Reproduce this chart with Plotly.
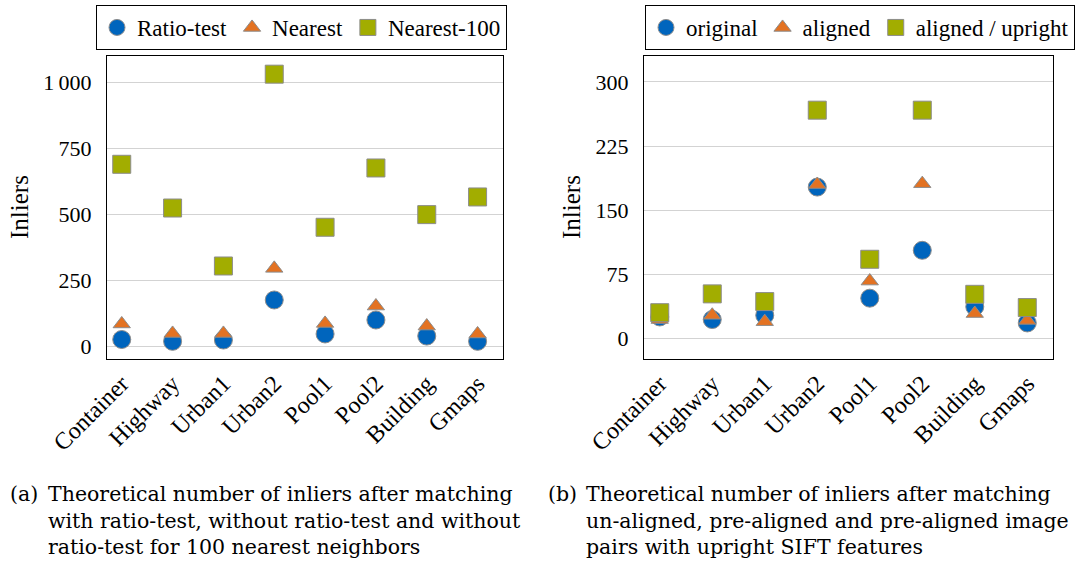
import plotly.graph_objects as go

categories = ["Container", "Highway", "Urban1", "Urban2", "Pool1", "Pool2", "Building", "Gmaps"]
tick_labels = ["Container", "Highway", "Urban1", "Urban2", "Pool1", "Pool2", "Building", "Gmaps"]

# Left panel (a)
ratio_test = [25, 18, 23, 175, 46, 99, 38, 18]
nearest = [84, 48, 48, 295, 86, 152, 76, 46]
nearest_100 = [690, 524, 304, 1032, 451, 676, 499, 566]

# Right panel (b)
original = [25, 22, 27, 177, 47, 103, 37, 18]
aligned = [22, 27, 19.5, 180, 67, 181, 29, 21]
aligned_upright = [30, 52, 43, 267, 92.5, 267, 51.5, 36]

left_yticks = [0, 250, 500, 750, 1000]
left_yticktext = ["0", "250", "500", "750", "1\u2009000"]
right_yticks = [0, 75, 150, 225, 300]
right_yticktext = ["0", "75", "150", "225", "300"]

BLUE = "#0065BD"
ORANGE = "#E37222"
GREEN = "#A2AD00"
EDGE = "#8c8c8c"
FONT = "Liberation Serif"
CAP_FONT = "DejaVu Serif"

W, H = 1078, 569

def px_x(p):
    return p / W

def px_y(p):
    return 1 - p / H

fig = go.Figure()

xidx = list(range(len(categories)))

def add_series(x_axis, y_axis, legend, name, y, symbol, color, size):
    fig.add_trace(go.Scatter(
        x=xidx, y=y, mode="markers", name=name,
        xaxis=x_axis, yaxis=y_axis, legend=legend,
        marker=dict(symbol=symbol, color=color, size=size,
                    line=dict(color=EDGE, width=1)),
        hoverinfo="skip",
    ))

add_series("x", "y", "legend", "Ratio-test", ratio_test, "circle", BLUE, 18)
add_series("x", "y", "legend", "Nearest", nearest, "triangle-up", ORANGE, 15)
add_series("x", "y", "legend", "Nearest-100", nearest_100, "square", GREEN, 18)

add_series("x2", "y2", "legend2", "original", original, "circle", BLUE, 18)
add_series("x2", "y2", "legend2", "aligned", aligned, "triangle-up", ORANGE, 15)
add_series("x2", "y2", "legend2", "aligned / upright", aligned_upright, "square", GREEN, 18)

ydom = [px_y(359), px_y(56)]

xaxis_common = dict(
    tickmode="array", tickvals=xidx, ticktext=tick_labels, tickangle=-45,
    showgrid=False, zeroline=False, showline=True, mirror=True,
    linecolor="black", linewidth=1, ticks="", automargin=False,
    tickfont=dict(family=FONT, size=24, color="black"),
)
yaxis_common = dict(
    showgrid=True, gridcolor="#d3d3d3", gridwidth=1, zeroline=False,
    showline=True, mirror=True, linecolor="black", linewidth=1, ticks="",
    ticklabelstandoff=10, automargin=False,
    tickfont=dict(family=FONT, size=22, color="black"),
)

legend_common = dict(orientation="h", yanchor="top", y=px_y(5),
                     bordercolor="black", borderwidth=1, bgcolor="white",
                     font=dict(family=FONT, size=23, color="black"), itemclick=False)

fig.update_layout(
    width=W, height=H,
    margin=dict(l=0, r=0, t=0, b=0, autoexpand=False),
    paper_bgcolor="white", plot_bgcolor="white",
    font=dict(family=FONT, color="black"),
    xaxis=dict(domain=[px_x(107), px_x(503)], range=[-0.29, 7.5], anchor="y", **xaxis_common),
    yaxis=dict(domain=ydom, range=[-49, 1101], anchor="x",
               tickmode="array", tickvals=left_yticks, ticktext=left_yticktext, **yaxis_common),
    xaxis2=dict(domain=[px_x(644), px_x(1053)], range=[-0.3, 7.49], anchor="y2", **xaxis_common),
    yaxis2=dict(domain=ydom, range=[-24.2, 330.4], anchor="x2",
                tickmode="array", tickvals=right_yticks, ticktext=right_yticktext, **yaxis_common),
    legend=dict(x=px_x(96), xanchor="left", **legend_common),
    legend2=dict(x=px_x(1075), xanchor="right", **legend_common),
    showlegend=True,
)

annotations = []
# y axis titles
for xp in (20, 572):
    annotations.append(dict(text="Inliers", x=px_x(xp), y=px_y(207), xref="paper", yref="paper",
                            textangle=-90, showarrow=False, xanchor="center", yanchor="middle",
                            font=dict(family=FONT, size=25, color="black")))

caption_a = ["Theoretical number of inliers after matching",
             "with ratio-test, without ratio-test and without",
             "ratio-test for 100 nearest neighbors"]
caption_b = ["Theoretical number of inliers after matching",
             "un-aligned, pre-aligned and pre-aligned image",
             "pairs with upright SIFT features"]

CAP_SIZE = 20.5

for label, lines, xl, xb in (("(a)", caption_a, 8, 46), ("(b)", caption_b, 546, 584)):
    annotations.append(dict(text=label, x=px_x(xl), y=px_y(494), xref="paper", yref="paper",
                            showarrow=False, xanchor="left", yanchor="middle",
                            font=dict(family=CAP_FONT, size=CAP_SIZE, color="black")))
    annotations.append(dict(text="<br>".join(lines), x=px_x(xb), y=px_y(520),
                            xref="paper", yref="paper", align="left",
                            showarrow=False, xanchor="left", yanchor="middle",
                            font=dict(family=CAP_FONT, size=CAP_SIZE, color="black")))

fig.update_layout(annotations=annotations)

fig.write_html("out.html")
